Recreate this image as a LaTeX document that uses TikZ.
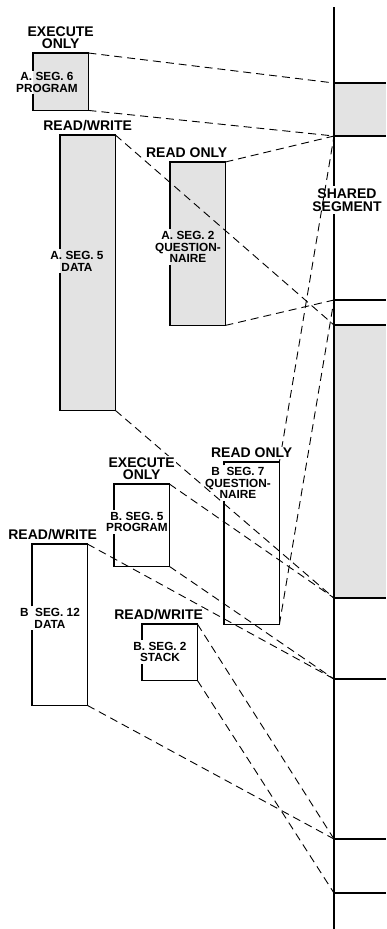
\documentclass[tikz,border=0pt]{standalone}
\usepackage{fontspec}
\setmainfont{Liberation Sans}
\usetikzlibrary{positioning}

\begin{document}
\begin{tikzpicture}[x=1pt,y=-1pt,
    seg/.style={minimum width=55pt, anchor=north west, inner sep=0pt},
    shade/.style={fill=black!11},
    access/.style={font=\fontsize{14}{12.5}\selectfont\bfseries, align=center, fill=white, inner sep=1pt},
    segtext/.style={font=\fontsize{11.8}{11.8}\selectfont\bfseries, align=center, inner sep=1.5pt},
    map/.style={dash pattern=on 8pt off 5pt, line width=0.9pt},
    frame/.style={line width=1.6pt}]

\useasboundingbox (0,0) rectangle (386,929);

% Memory
\foreach \y in {83,136,300,325,598,679,839,893}
    \coordinate (p\y) at (334,\y);
\fill[black!11] (p83) rectangle (386,136);
\fill[black!11] (p325) rectangle (386,598);
\foreach \y in {83,136,300,325,598,679,839,893}
    \draw[frame] (p\y) -- (386,\y);
\draw[frame] (334,7) -- (334,929);
\node[access, inner sep=3pt] (shared) at (347,200) {SHARED\\SEGMENT};

% Segments of user A
\node[seg, shade, minimum height=57pt] (a6) at (33,53) {};
\node[seg, shade, minimum height=275pt] (a5) at (60,135) {};
\node[seg, shade, minimum height=163pt] (a2) at (170,162) {};

% Segments of user B
\node[seg, minimum height=162pt] (b7) at (224,462) {};
\node[seg, minimum height=82pt] (b5) at (114,484) {};
\node[seg, minimum height=161pt] (b12) at (32,544) {};
\node[seg, minimum height=56pt] (b2) at (142,624) {};

% Mapping into memory
\draw[map] (a6.north east) -- (p83);
\draw[map] (a6.south east) -- (p136);
\draw[map] (a5.north east) -- (p325);
\draw[map] (a5.south east) -- (p598);
\draw[map] (a2.north east) -- (p136);
\draw[map] (a2.south east) -- (p300);
\draw[map] (b7.north east) -- (p136);
\draw[map] (b7.south east) -- (p300);
\draw[map] (b5.north east) -- (p598);
\draw[map] (b5.south east) -- (p679);
\draw[map] (b12.north east) -- (p679);
\draw[map] (b12.south east) -- (p839);
\draw[map] (b2.north east) -- (p839);
\draw[map] (b2.south east) -- (p893);

% Segment names
\node[segtext] (t-a6) at (47,82.5) {A. SEG. 6\\PROGRAM};
\node[segtext] (t-a5) at (77,261) {A. SEG. 5\\DATA};
\node[segtext] (t-a2) at (188,247) {A. SEG. 2\\QUESTION-\\NAIRE};
\node[segtext] (t-b7) at (238,483) {B\ \ SEG. 7\\QUESTION-\\NAIRE};
\node[segtext] (t-b5) at (137,522) {B. SEG. 5\\PROGRAM};
\node[segtext] (t-b12) at (50,618) {B\ \ SEG. 12\\DATA};
\node[segtext] (t-b2) at (160,652) {B. SEG. 2\\STACK};

% Frames, left side broken by the name
\foreach \b in {a6,a5,a2,b7,b5,b12,b2}
    \draw[frame] (t-\b.north -| \b.west) -- (\b.north west) -- (\b.north east)
        -- (\b.south east) -- (\b.south west) -- (t-\b.south -| \b.west);

% Access rights
\node[access, above=3pt of a6] (r-a6) {EXECUTE\\ONLY};
\node[access, above=3pt of a5] (r-a5) {READ/WRITE};
\node[access, above=3pt of a2, xshift=-11pt] (r-a2) {READ ONLY};
\node[access, above=3pt of b7] (r-b7) {READ ONLY};
\node[access, above=3pt of b5] (r-b5) {EXECUTE\\ONLY};
\node[access, above=3pt of b12, xshift=-7pt] (r-b12) {READ/WRITE};
\node[access, above=3pt of b2, xshift=-11pt] (r-b2) {READ/WRITE};

\end{tikzpicture}
\end{document}
